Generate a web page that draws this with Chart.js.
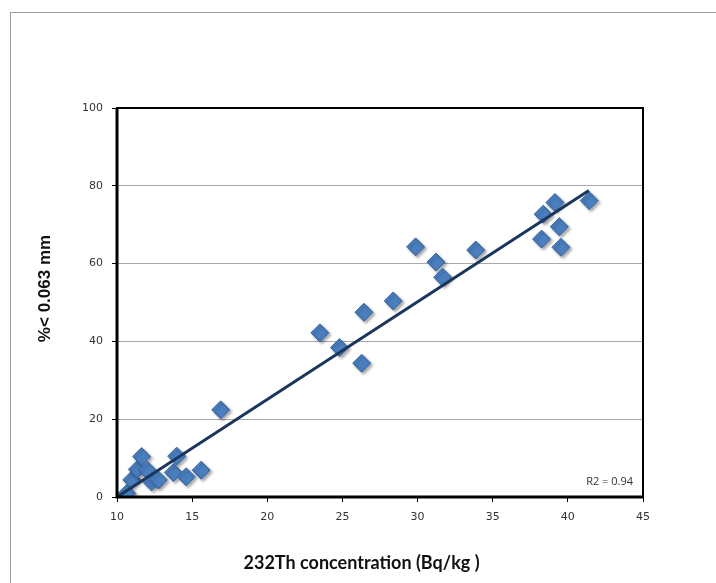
<!DOCTYPE html>
<html>
<head>
<meta charset="utf-8">
<script src="https://cdn.jsdelivr.net/npm/chart.js@4"></script>
<style>
  html, body { margin: 0; padding: 0; background: #fff; }
  #wrap { position: relative; width: 716px; height: 583px; overflow: hidden; }
  #frame { position: absolute; left: 10px; top: 12px; width: 800px; height: 700px; border-left: 1px solid #9a9a9a; border-top: 1px solid #9a9a9a; }
  #c { position: absolute; left: 0; top: 0; }
</style>
</head>
<body>
<div id="wrap">
  <div id="frame"></div>
  <canvas id="c" width="716" height="583"></canvas>
</div>
<script>
// 232Th concentration (Bq/kg)
const thX = [10.65, 10.98, 11.35, 11.64, 12.02, 12.3, 12.75, 13.75, 13.97, 14.6, 15.6, 16.9,
             23.5, 24.8, 26.28, 26.43, 28.38, 29.87, 31.22, 31.67, 33.87,
             38.25, 38.36, 39.14, 39.43, 39.54, 41.42];
// % < 0.063 mm
const pctFine = [0.9, 4.4, 7.1, 10.4, 6.9, 3.9, 4.4, 6.3, 10.5, 5.2, 6.9, 22.4,
                 42.2, 38.4, 34.4, 47.5, 50.4, 64.3, 60.4, 56.5, 63.5,
                 66.3, 72.7, 75.7, 69.5, 64.2, 76.2];
// trend line end points
const trendX = [10, 41.4];
const trendY = [0, 78.8];
const xTicks = [10, 15, 20, 25, 30, 35, 40, 45];
const yTicks = [0, 20, 40, 60, 80, 100];
const xTitle = '232Th concentration (Bq/kg )';
const yTitle = '%< 0.063 mm';
const r2Label = 'R2 = 0.94';

const points = thX.map((x, i) => ({ x: x, y: pctFine[i] }));
const trend = trendX.map((x, i) => ({ x: x, y: trendY[i] }));

const frameBox = {
  id: 'frameBox',
  afterDatasetsDraw(chart) {
    const a = chart.chartArea, ctx = chart.ctx;
    ctx.save();
    ctx.strokeStyle = '#000';
    ctx.lineWidth = 2;
    ctx.strokeRect(a.left, a.top, a.right - a.left, a.bottom - a.top);
    ctx.lineWidth = 3;
    ctx.beginPath();
    ctx.moveTo(a.left, a.top);
    ctx.lineTo(a.left, a.bottom);
    ctx.lineTo(a.right, a.bottom);
    ctx.stroke();
    ctx.font = '11px "Open Sans", sans-serif';
    ctx.fillStyle = '#333';
    ctx.textAlign = 'right';
    ctx.textBaseline = 'middle';
    ctx.fillText(r2Label, a.right - 10, a.bottom - 15);
    // axis titles
    ctx.fillStyle = '#111';
    ctx.textAlign = 'center';
    ctx.font = 'bold 18px Lato, "Open Sans", sans-serif';
    ctx.fillText(xTitle, a.left + (a.right - a.left) * 0.465, 563);
    ctx.translate(45, a.top + (a.bottom - a.top) * 0.464);
    ctx.rotate(-Math.PI / 2);
    ctx.font = 'bold 17px "Liberation Sans", Arial, sans-serif';
    ctx.fillText(yTitle, 0, 0);
    ctx.restore();
  }
};

const shadowPts = {
  id: 'shadowPts',
  beforeDatasetDraw(chart, args) {
    if (args.index === 1) {
      const ctx = chart.ctx;
      ctx.save();
      ctx.shadowColor = 'rgba(0,0,0,0.35)';
      ctx.shadowBlur = 3;
      ctx.shadowOffsetX = 2;
      ctx.shadowOffsetY = 2;
    }
  },
  afterDatasetDraw(chart, args) {
    if (args.index === 1) chart.ctx.restore();
  }
};

new Chart(document.getElementById('c'), {
  type: 'scatter',
  data: {
    datasets: [
      {
        type: 'line',
        data: trend,
        borderColor: '#1a365c',
        borderWidth: 3,
        pointRadius: 0,
        fill: false,
        order: 1
      },
      {
        data: points,
        pointStyle: 'rectRot',
        pointRadius: 9,
        backgroundColor: '#4a7ebf',
        borderColor: '#35659e',
        borderWidth: 1,
        order: 2
      }
    ]
  },
  options: {
    responsive: false,
    animation: false,
    layout: { padding: { top: 108, right: 73, left: 0, bottom: 0 } },
    plugins: { legend: { display: false }, tooltip: { enabled: false } },
    scales: {
      x: {
        type: 'linear',
        min: 10, max: 45,
        afterFit(s) { s.height = 86; },
        afterBuildTicks(s) { s.ticks = xTicks.map(v => ({ value: v })); },
        grid: { drawOnChartArea: false, drawTicks: true, tickLength: 5, tickColor: '#000' },
        border: { display: false },
        ticks: { padding: 9, color: '#333', font: { family: '"DejaVu Sans", Verdana, sans-serif', size: 11 }, maxRotation: 0 },
        title: { display: false }
      },
      y: {
        type: 'linear',
        min: 0, max: 100,
        afterFit(s) { s.width = 117; },
        afterBuildTicks(s) { s.ticks = yTicks.map(v => ({ value: v })); },
        grid: { color: '#a8a8a8', lineWidth: 1, drawTicks: true, tickLength: 5, tickColor: '#000' },
        border: { display: false },
        ticks: { padding: 9, color: '#333', font: { family: '"DejaVu Sans", Verdana, sans-serif', size: 11 } },
        title: { display: false }
      }
    }
  },
  plugins: [frameBox, shadowPts]
});
</script>
</body>
</html>
